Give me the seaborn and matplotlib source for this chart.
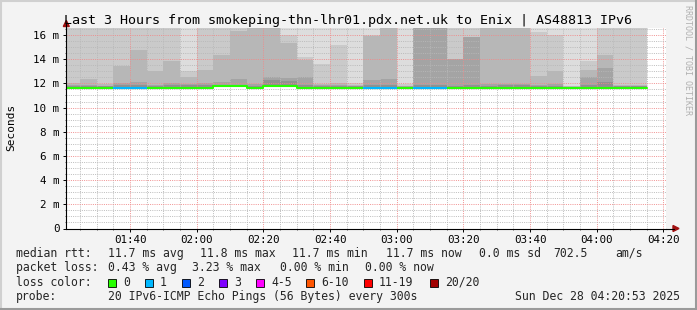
import numpy as np
import matplotlib
matplotlib.use("Agg")
import matplotlib.pyplot as plt
from matplotlib.patches import Polygon, Rectangle
from matplotlib.lines import Line2D
import seaborn as sns

W, H = 697, 310

# ---------------- data ----------------
window_start = "01:20:53"
window_end = "04:20:53"
bar_end = ["01:25", "01:30", "01:35", "01:40", "01:45", "01:50", "01:55", "02:00",
           "02:05", "02:10", "02:15", "02:20", "02:25", "02:30", "02:35", "02:40",
           "02:45", "02:50", "02:55", "03:00", "03:05", "03:10", "03:15", "03:20",
           "03:25", "03:30", "03:35", "03:40", "03:45", "03:50", "03:55", "04:00",
           "04:05", "04:10", "04:15"]
median_ms = [11.65, 11.65, 11.65, 11.65, 11.65, 11.65, 11.65, 11.65,
             11.65, 11.75, 11.75, 11.65, 11.75, 11.75, 11.65, 11.65,
             11.65, 11.65, 11.65, 11.65, 11.65, 11.65, 11.65, 11.65,
             11.65, 11.65, 11.65, 11.65, 11.65, 11.65, 11.65, 11.65,
             11.65, 11.65, 11.65]
loss_pings = [0, 0, 0, 1, 1, 0, 0, 0,
              0, 0, 0, 0, 0, 0, 0, 0,
              0, 0, 1, 1, 0, 1, 1, 0,
              0, 0, 0, 0, 0, 0, 0, 0,
              0, 0, 0]
# upper pings of the 20 (sorted): ping 20 = max ... ping 16
ping20 = [17.0] * 35
ping19 = [17.0, 17.0, 17.0, 17.0, 17.0, 17.0, 17.0, 13.05,
          17.0, 17.0, 17.0, 17.0, 17.0, 16.0, 14.16, 13.63,
          15.17, 12.05, 15.98, 17.0, 11.95, 17.0, 17.0, 17.0,
          17.0, 17.0, 17.0, 17.0, 16.25, 15.97, 11.8, 13.83,
          17.0, 17.0, 17.0]
ping18 = [12.0, 12.37, 11.95, 13.47, 14.76, 13.03, 13.85, 12.5,
          13.08, 14.38, 16.35, 17.0, 17.0, 15.37, 13.94, 11.95,
          12.0, 11.9, 15.95, 17.0, 11.8, 17.0, 17.0, 14.05,
          15.87, 17.0, 17.0, 17.0, 12.6, 13.0, 11.75, 13.1,
          14.37, 11.85, 11.85]
ping17 = [11.85, 11.85, 11.8, 12.0, 12.1, 11.9, 12.0, 11.95,
          12.0, 12.15, 12.4, 11.95, 12.56, 12.45, 12.5, 11.85,
          11.85, 11.8, 12.26, 12.34, 11.75, 17.0, 17.0, 14.0,
          15.8, 11.95, 11.95, 11.95, 11.9, 11.95, 11.7, 12.52,
          13.3, 11.8, 11.8]
ping16 = [11.75, 11.75, 11.75, 11.85, 11.9, 11.8, 11.85, 11.85,
          11.85, 11.9, 11.9, 11.8, 12.3, 12.2, 11.9, 11.75,
          11.75, 11.75, 11.85, 11.85, 11.7, 11.85, 11.85, 11.8,
          11.85, 11.8, 11.9, 11.85, 11.8, 11.8, 11.7, 11.9,
          12.1, 11.75, 11.75]

tick_times = ["01:40", "02:00", "02:20", "02:40", "03:00", "03:20", "03:40", "04:00", "04:20"]
y_ticks_ms = [0, 2, 4, 6, 8, 10, 12, 14, 16]
y_top_ms = 16.58

loss_labels = ["0", "1", "2", "3", "4-5", "6-10", "11-19", "20/20"]
loss_bucket_max = [0, 1, 2, 3, 5, 10, 19, 20]

# ---------------- styles ----------------
loss_colors = ["#26ff00", "#00b8ff", "#0059ff", "#7e00ff", "#ff00ff", "#ff5500", "#ff0000", "#a10000"]
smoke_colors = ["#dddddd", "#cacaca", "#b7b7b7", "#a4a4a4", "#919191"]

sns.set_theme(style="white")
plt.rcParams["font.family"] = ["DejaVu Sans Mono", "DejaVu Sans"]


def to_min(s):
    parts = [int(p) for p in s.split(":")]
    while len(parts) < 3:
        parts.append(0)
    return parts[0] * 60 + parts[1] + parts[2] / 60.0


t0 = to_min(window_start)
t1 = to_min(window_end)
ends = np.array([to_min(s) for s in bar_end])
starts = np.concatenate([[t0], ends[:-1]])
widths = ends - starts
med = np.array(median_ms)

fig = plt.figure(figsize=(W / 100, H / 100), dpi=100)
fig.patch.set_facecolor("#f3f3f3")

ax_l, ax_r, ax_t, ax_b = 66.3, 666.3, 28.0, 228.5
ax = fig.add_axes([ax_l / W, 1 - ax_b / H, (ax_r - ax_l) / W, (ax_b - ax_t) / H])
ax.set_facecolor("white")

# smoke layers (outer first, inner layers painted over)
for vals, col in zip([ping20, ping19, ping18, ping17, ping16], smoke_colors):
    v = np.array(vals)
    ax.bar(starts, v - med, bottom=med, width=widths, align="edge",
           color=col, linewidth=0, antialiased=False, zorder=1)

# median line, coloured by loss
edges = np.concatenate([starts, [ends[-1]]])
sns.lineplot(x=edges, y=np.concatenate([med, [med[-1]]]), drawstyle="steps-post",
             color=loss_colors[0], linewidth=1.5, ax=ax, zorder=4)


def bucket(n):
    for i, m in enumerate(loss_bucket_max):
        if n <= m:
            return i
    return len(loss_bucket_max) - 1


for s, e, m, lp in zip(starts, ends, med, loss_pings):
    if lp > 0:
        ax.hlines(m, s, e, color=loss_colors[bucket(lp)], linewidth=1.5, zorder=5)

ax.set_xlim(t0, t1)
ax.set_ylim(0, y_top_ms)

major_x = [to_min(s) for s in tick_times]
ax.set_xticks(major_x)
ax.set_xticklabels(tick_times)
minor_x = [m for m in range(85, 261, 5) if m % 20 != 0]
ax.set_xticks(minor_x, minor=True)
ax.set_yticks(y_ticks_ms)
ax.set_yticklabels(["0" if v == 0 else f"{v} m" for v in y_ticks_ms])
minor_y = [k * 0.5 for k in range(1, 34) if k % 4 != 0]
ax.set_yticks(minor_y, minor=True)

ax.set_axisbelow(False)
ax.grid(which="minor", color="#b8b8b8", linewidth=0.72, linestyle=(0, (1, 1.2)),
        alpha=0.9, zorder=3)
ax.grid(which="major", color="#f08a8a", linewidth=0.72, linestyle=(0, (1, 1.2)),
        alpha=0.9, zorder=3)

ax.tick_params(which="major", direction="out", length=2, width=0.7, color="black",
               labelsize=7.8, pad=3, labelcolor="#000000")
ax.tick_params(which="minor", direction="out", length=1.0, width=0.6, color="#444444")
ax.xaxis.set_ticks_position("bottom")
ax.yaxis.set_ticks_position("left")
for sp in ["top", "right"]:
    ax.spines[sp].set_visible(False)
for sp in ["left", "bottom"]:
    ax.spines[sp].set_color("black")
    ax.spines[sp].set_linewidth(0.8)
    ax.spines[sp].set_zorder(6)
ax.set_xlabel("")
ax.set_ylabel("")


def fx(x):
    return x / W


def fy(y):
    return 1 - y / H


# axis extensions + arrows
fig.add_artist(Line2D([fx(ax_l), fx(ax_l)], [fy(ax_t), fy(24)], color="black", lw=0.8))
fig.add_artist(Line2D([fx(ax_r), fx(674)], [fy(ax_b), fy(ax_b)], color="black", lw=0.8))
fig.add_artist(Polygon([[fx(ax_l - 3), fy(26.5)], [fx(ax_l + 3), fy(26.5)], [fx(ax_l), fy(20.5)]],
                       closed=True, color="#a01010", transform=fig.transFigure))
fig.add_artist(Polygon([[fx(673), fy(ax_b - 3)], [fx(673), fy(ax_b + 3)], [fx(679), fy(ax_b)]],
                       closed=True, color="#a01010", transform=fig.transFigure))

# frame
fig.add_artist(Line2D([0, 1], [fy(0.8), fy(0.8)], color="#d0d0d0", lw=1.5))
fig.add_artist(Line2D([fx(0.8), fx(0.8)], [0, 1], color="#d0d0d0", lw=1.5))
fig.add_artist(Line2D([0, 1], [fy(H - 0.8), fy(H - 0.8)], color="#9a9a9a", lw=1.5))
fig.add_artist(Line2D([fx(W - 0.8), fx(W - 0.8)], [0, 1], color="#9a9a9a", lw=1.5))

# title
fig.text(fx(347.5), fy(24), "Last 3 Hours from smokeping-thn-lhr01.pdx.net.uk to Enix | AS48813 IPv6",
         ha="center", va="baseline", fontsize=9.6, color="black")
# y label
fig.text(fx(11), fy(127), "Seconds", rotation=90, ha="center", va="center", fontsize=8.0, color="black")
# rrdtool credit
fig.text(fx(688), fy(5), "RRDTOOL / TOBI OETIKER", rotation=270, ha="center", va="top",
         fontsize=6.0, color="#b0b0b0")

fs = 8.3
rows = [257, 271.3, 285.6, 300]
fig.text(fx(16), fy(rows[0]), "median rtt:", fontsize=fs, va="baseline")
for x, s in zip([108, 200, 292, 386, 479, 553, 615],
                ["11.7 ms avg", "11.8 ms max", "11.7 ms min", "11.7 ms now", "0.0 ms sd", "702.5", "am/s"]):
    fig.text(fx(x), fy(rows[0]), s, fontsize=fs, va="baseline")
fig.text(fx(16), fy(rows[1]), "packet loss:", fontsize=fs, va="baseline")
for x, s in zip([108, 192, 280, 365],
                ["0.43 % avg", "3.23 % max", "0.00 % min", "0.00 % now"]):
    fig.text(fx(x), fy(rows[1]), s, fontsize=fs, va="baseline")
fig.text(fx(16), fy(rows[2]), "loss color:", fontsize=fs, va="baseline")
for bx, lab, col in zip([108, 145, 182, 219, 256, 306, 364, 430], loss_labels, loss_colors):
    fig.add_artist(Rectangle((fx(bx), fy(286.5)), 8 / W, 8 / H, transform=fig.transFigure,
                             facecolor=col, edgecolor="black", linewidth=0.6))
    fig.text(fx(bx + 15), fy(rows[2]), lab, fontsize=fs, va="baseline")
fig.text(fx(16), fy(rows[3]), "probe:", fontsize=fs, va="baseline")
fig.text(fx(108), fy(rows[3]), "20 IPv6-ICMP Echo Pings (56 Bytes) every 300s", fontsize=fs, va="baseline")
fig.text(fx(680), fy(rows[3]), "Sun Dec 28 04:20:53 2025", fontsize=fs, va="baseline", ha="right")

fig.savefig("out.png", dpi=100, facecolor=fig.get_facecolor())
